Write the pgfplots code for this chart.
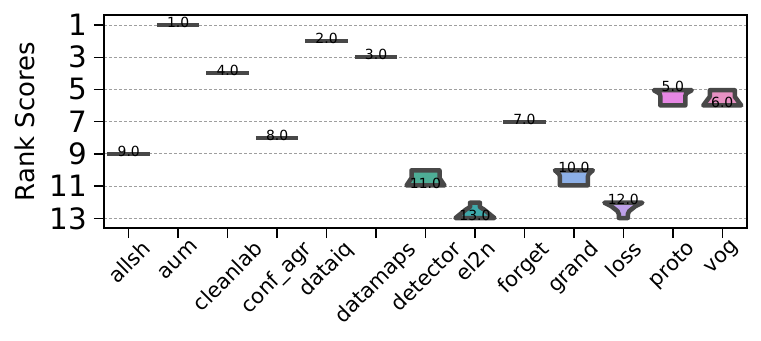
\documentclass[border=0pt]{standalone}
\usepackage{fontspec}
\setmainfont{DejaVu Sans}
\usepackage{graphicx}
\usepackage{pgfplots}
\pgfplotsset{compat=1.18}
\usetikzlibrary{calc}

\definecolor{outl}{RGB}{72,72,72}
\definecolor{cdet}{RGB}{78,173,150}
\definecolor{cel}{RGB}{62,168,170}
\definecolor{cgrand}{RGB}{140,175,230}
\definecolor{closs}{RGB}{190,160,232}
\definecolor{cproto}{RGB}{230,135,228}
\definecolor{cvog}{RGB}{230,145,195}

\begin{document}
\begin{tikzpicture}
\begin{axis}[
  scale only axis,
  width=643bp, height=213bp,
  xmin=-0.5, xmax=12.5,
  ymin=0.38, ymax=13.6,
  y dir=reverse,
  ytick={1,3,5,7,9,11,13},
  xtick={0,1,2,3,4,5,6,7,8,9,10,11,12},
  xticklabels={\rotatebox{45}{allsh},\rotatebox{45}{aum},\rotatebox{45}{cleanlab},\rotatebox{45}{conf\_agr},\rotatebox{45}{dataiq},\rotatebox{45}{datamaps},\rotatebox{45}{detector},\rotatebox{45}{el2n},\rotatebox{45}{forget},\rotatebox{45}{grand},\rotatebox{45}{loss},\rotatebox{45}{proto},\rotatebox{45}{vog}},
  tick pos=left,
  tick align=outside,
  major tick length=10bp,
  every tick/.style={black, line width=1.4bp},
  axis line style={line width=1.4bp},
  ymajorgrids,
  grid style={gray!75, line width=0.8bp, dash pattern=on 3bp off 2bp},
  /pgf/number format/assume math mode=true,
  yticklabel style={font=\fontsize{29.5}{30}\selectfont, inner sep=0pt, xshift=-7bp},
  xticklabel style={font=\fontsize{21}{22}\selectfont, anchor=north, inner sep=0pt, yshift=-1bp},
  ylabel={Rank Scores},
  ylabel style={font=\fontsize{26}{28}\selectfont, at={(axis description cs:-0.1073,0.5)}, anchor=south, inner sep=0pt},
  no markers,
]
% single-value methods
\addplot[outl, line width=4bp] coordinates {(-0.43,9) (0.43,9)};
\addplot[outl, line width=4bp] coordinates {(0.57,1) (1.43,1)};
\addplot[outl, line width=4bp] coordinates {(1.57,4) (2.43,4)};
\addplot[outl, line width=4bp] coordinates {(2.57,8) (3.43,8)};
\addplot[outl, line width=4bp] coordinates {(3.57,2) (4.43,2)};
\addplot[outl, line width=4bp] coordinates {(4.57,3) (5.43,3)};
\addplot[outl, line width=4bp] coordinates {(7.57,7) (8.43,7)};
% violins
\addplot[draw=outl, fill=cdet, line width=4.5bp, line join=round] coordinates {
  (5.717,10.02) (6.283,10.02) (6.283,10.50) (6.384,10.96) (5.616,10.96) (5.717,10.50)} --cycle;
\addplot[draw=outl, fill=cel, line width=4.5bp, line join=round] coordinates {
  (6.90,12.03) (7.10,12.03) (7.10,12.30) (7.18,12.45) (7.394,12.98) (6.606,12.98) (6.82,12.45) (6.90,12.30)} --cycle;
\addplot[draw=outl, fill=cgrand, line width=4.5bp, line join=round] coordinates {
  (8.616,10.02) (9.384,10.02) (9.30,10.25) (9.283,10.40) (9.283,10.95) (8.717,10.95) (8.717,10.40) (8.70,10.25)} --cycle;
\addplot[draw=outl, fill=closs, line width=4.5bp, line join=round] coordinates {
  (9.616,12.03) (10.384,12.03) (10.243,12.25) (10.12,12.55) (10.09,12.74) (10.09,12.98) (9.91,12.98) (9.91,12.74) (9.88,12.55) (9.757,12.25)} --cycle;
\addplot[draw=outl, fill=cproto, line width=4.5bp, line join=round] coordinates {
  (10.616,5.05) (11.384,5.05) (11.27,5.25) (11.253,5.40) (11.253,5.99) (10.747,5.99) (10.747,5.40) (10.73,5.25)} --cycle;
\addplot[draw=outl, fill=cvog, line width=4.5bp, line join=round] coordinates {
  (11.747,5.05) (12.253,5.05) (12.253,5.45) (12.384,5.99) (11.616,5.99) (11.747,5.45)} --cycle;
% value labels
\addplot[draw=none, nodes near coords, point meta=explicit symbolic,
  nodes near coords style={anchor=center, yshift=2.7bp, text=black, font=\fontsize{14}{15}\selectfont, inner sep=0pt}]
  table[meta=lab] {
x y lab
0 9 9.0
1 1 1.0
2 4 4.0
3 8 8.0
4 2 2.0
5 3 3.0
6 11 11.0
7 13 13.0
8 7 7.0
9 10 10.0
10 12 12.0
11 5 5.0
12 6 6.0
};
\end{axis}
\path ($(current axis.south west)+(-104bp,-113bp)$) rectangle ($(current axis.north east)+(14bp,15bp)$);
\end{tikzpicture}
\end{document}
